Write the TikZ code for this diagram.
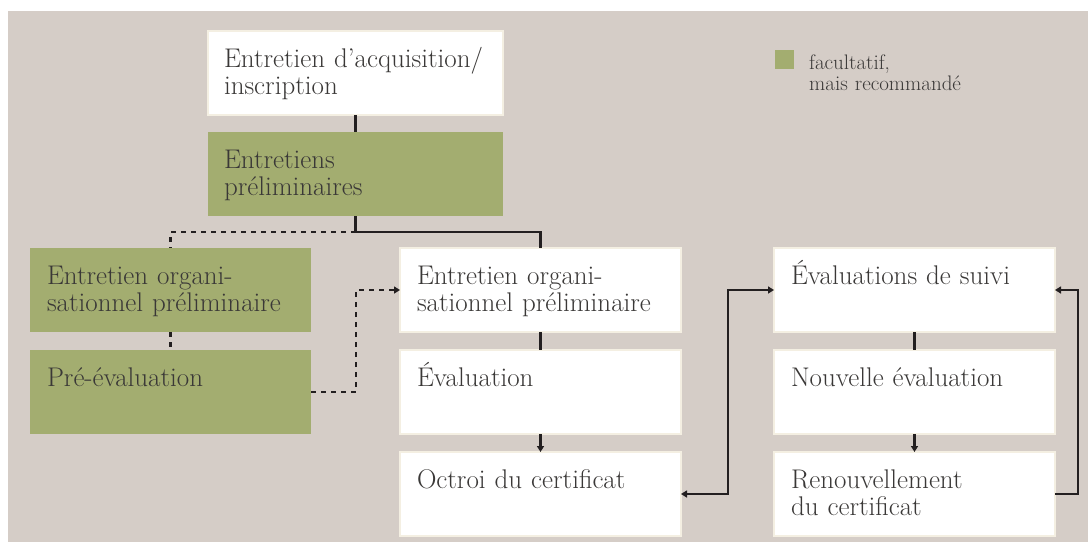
\documentclass[tikz,border=0pt]{standalone}
\usetikzlibrary{arrows.meta}

\definecolor{paper}{HTML}{D5CDC7}
\definecolor{leaf}{HTML}{A3AD70}
\definecolor{rim}{HTML}{F4EFE2}
\definecolor{ink}{HTML}{3A3837}
\definecolor{wire}{HTML}{231F20}

\tikzset{
    stepbox/.style={anchor=north west, inner xsep=17pt, inner ysep=0pt, outer sep=0pt,
        text width=247pt, text height=36pt, text depth=48pt, align=left, text=ink,
        font=\fontsize{27}{27}\selectfont},
    certbox/.style={stepbox, fill=white, draw=rim, line width=2pt},
    optbox/.style={stepbox, fill=leaf},
    wide/.style={inner xsep=16pt, text width=263pt},
    flow/.style={draw=wire, line width=2.5pt},
    optflow/.style={flow, dash pattern=on 5pt off 5pt}
}

\begin{document}
\begin{tikzpicture}[x=1pt, y=-1pt, >={Triangle[length=6pt,width=7pt]}]
        \useasboundingbox (0,0) rectangle (1088,542);
        \fill[paper] (8,11) rectangle (1088,542);

        % legend
        \node[fill=leaf, minimum size=19pt, inner sep=0pt] (key) at (784.5,59.5) {};
        \node[anchor=base west, inner sep=0pt, text width=200pt, align=left, text=ink,
            font=\fontsize{21}{21}\selectfont] (keytext) at (809,69) {facultatif,\\mais recommandé};

        \node[certbox, wide] (acq) at (208,31) {Entretien d’acquisition/\\inscription};
        \node[optbox, wide] (prelim) at (208,132) {Entretiens\\préliminaires};

        \node[optbox] (orgopt) at (30,248) {Entretien organi-\\sationnel préliminaire};
        \node[optbox] (preeval) at (30,350) {Pré-évaluation};

        \node[certbox] (org) at (400,248) {Entretien organi-\\sationnel préliminaire};
        \node[certbox] (eval) at (400,350) {Évaluation};
        \node[certbox] (cert) at (400,452) {Octroi du certificat};

        \node[certbox] (suivi) at (774,248) {Évaluations de suivi};
        \node[certbox] (reeval) at (774,350) {Nouvelle évaluation};
        \node[certbox] (renew) at (774,452) {Renouvellement\\du certificat};

        \draw[flow] (acq) -- (prelim);
        \draw[flow] (prelim.south) -- ++(0,16) coordinate (fork) -| (org.north);
        \draw[optflow] (fork) -| (orgopt.north);
        \draw[optflow] (orgopt) -- (preeval);
        \draw[optflow, ->] (preeval.east) -- ++(45,0) |- (org.west);

        \draw[flow] (org) -- (eval);
        \draw[flow, ->] (eval) -- (cert);
        \draw[flow, <->] (cert.east) -- ++(47,0) |- (suivi.west);

        \draw[flow] (suivi) -- (reeval);
        \draw[flow, ->] (reeval) -- (renew);
        \draw[flow, ->] (renew.east) -- ++(23,0) |- (suivi.east);

        % \draw (renew) +(0,20) node[below] {};
    \end{tikzpicture}
\end{document}
